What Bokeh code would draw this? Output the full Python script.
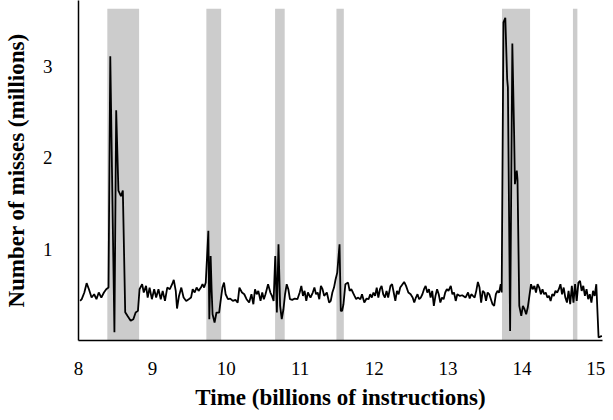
from bokeh.plotting import figure
from bokeh.models import Range1d, FixedTicker
from bokeh.embed import file_html
from bokeh.resources import INLINE

# Time (billions of instructions)
time_b = [
    8.022, 8.044, 8.079, 8.110, 8.141, 8.177, 8.212, 8.243, 8.274, 8.309, 8.344, 8.375, 8.406,
    8.430, 8.486, 8.510, 8.540, 8.575, 8.600, 8.632,
    8.662, 8.706, 8.742, 8.773, 8.804, 8.826, 8.861, 8.883, 8.914, 8.936, 8.962, 8.993,
    9.024, 9.051, 9.082, 9.113, 9.139, 9.170, 9.201, 9.236, 9.267, 9.289, 9.316, 9.333,
    9.360, 9.391, 9.422, 9.457, 9.492, 9.523, 9.545, 9.572, 9.598, 9.625, 9.656, 9.678,
    9.700, 9.722,
    9.757, 9.770, 9.788, 9.801, 9.814, 9.841, 9.867, 9.903, 9.920, 9.947, 9.969, 9.991,
    10.022, 10.053, 10.088, 10.124, 10.154, 10.177, 10.212, 10.243, 10.274, 10.309, 10.340,
    10.366, 10.388, 10.411, 10.433, 10.463, 10.486, 10.508, 10.530, 10.565, 10.596, 10.618,
    10.640, 10.662, 10.684, 10.706, 10.728, 10.750, 10.773, 10.795, 10.817, 10.839, 10.861,
    10.892, 10.927, 10.962, 10.993, 11.015, 11.037, 11.059, 11.082, 11.104, 11.139, 11.170,
    11.192, 11.214, 11.236, 11.258, 11.280, 11.302, 11.324, 11.360, 11.391, 11.413, 11.435,
    11.457, 11.479, 11.501,
    11.532, 11.549, 11.567, 11.585, 11.611, 11.647, 11.669, 11.691, 11.713, 11.735, 11.757,
    11.779, 11.814, 11.836, 11.867, 11.898, 11.925, 11.947, 11.969, 11.991, 12.013, 12.035,
    12.057, 12.079, 12.101, 12.123, 12.146, 12.168, 12.190, 12.221, 12.243, 12.265, 12.287,
    12.309, 12.331, 12.353, 12.375, 12.406, 12.432, 12.463, 12.494, 12.521, 12.543, 12.565,
    12.587, 12.609, 12.631, 12.653, 12.675, 12.697, 12.719, 12.742, 12.764, 12.786, 12.808,
    12.830, 12.852, 12.874, 12.896, 12.918, 12.940, 12.962, 12.984, 13.006, 13.037, 13.059,
    13.081, 13.104, 13.126, 13.161, 13.192, 13.236,
    13.271, 13.293, 13.315, 13.337, 13.360, 13.382, 13.404, 13.426, 13.448, 13.470, 13.492,
    13.514, 13.536, 13.558, 13.580, 13.602, 13.624, 13.647, 13.669, 13.691, 13.713, 13.726,
    13.750, 13.775, 13.800, 13.810, 13.840, 13.870, 13.894, 13.905, 13.930, 13.940,
    13.964, 13.991, 14.013, 14.035, 14.057, 14.079, 14.101, 14.123, 14.145, 14.168, 14.190,
    14.212, 14.234, 14.256, 14.278, 14.300, 14.322, 14.344, 14.366, 14.388, 14.410, 14.432,
    14.454, 14.477, 14.499, 14.521, 14.543, 14.565, 14.587, 14.609, 14.631, 14.653, 14.675,
    14.697, 14.719, 14.741, 14.764, 14.786, 14.808, 14.830, 14.852, 14.874, 14.896, 14.918,
    14.940, 14.962, 14.984, 15.006, 15.037, 15.081,
]

# Number of misses (millions)
misses_m = [
    0.433, 0.452, 0.525, 0.627, 0.561, 0.470, 0.506, 0.452, 0.525, 0.470, 0.525, 0.561, 0.579,
    3.110, 0.090, 2.520, 1.640, 1.580, 1.640, 0.310,
    0.270, 0.215, 0.233, 0.306, 0.324, 0.561, 0.616, 0.525, 0.598, 0.470, 0.579, 0.452,
    0.561, 0.470, 0.561, 0.452, 0.543, 0.433, 0.579, 0.561, 0.616, 0.663, 0.543, 0.350,
    0.488, 0.579, 0.470, 0.433, 0.452, 0.470, 0.561, 0.525, 0.579, 0.543, 0.579, 0.616,
    0.579, 0.634,
    1.200, 0.233, 0.925, 0.561, 0.288, 0.197, 0.306, 0.306, 0.415, 0.579, 0.634, 0.506,
    0.452, 0.459, 0.433, 0.444, 0.415, 0.579, 0.525, 0.506, 0.452, 0.415, 0.506,
    0.397, 0.561, 0.506, 0.543, 0.433, 0.525, 0.452, 0.506, 0.616, 0.525, 0.488,
    0.433, 0.925, 0.306, 1.053, 0.379, 0.233, 0.342, 0.506, 0.616, 0.561, 0.452,
    0.444, 0.459, 0.452, 0.525, 0.598, 0.488, 0.543, 0.433, 0.525, 0.470, 0.525,
    0.579, 0.506, 0.525, 0.452, 0.598, 0.561, 0.488, 0.525, 0.415, 0.433, 0.525,
    0.579, 0.670, 0.743,
    1.053, 0.324, 0.324, 0.397, 0.616, 0.634, 0.543, 0.561, 0.525, 0.488, 0.452,
    0.470, 0.452, 0.506, 0.415, 0.459, 0.452, 0.506, 0.470, 0.525, 0.488, 0.579,
    0.470, 0.561, 0.598, 0.506, 0.470, 0.543, 0.470, 0.598, 0.616, 0.525, 0.433,
    0.543, 0.506, 0.579, 0.605, 0.641, 0.598, 0.525, 0.506, 0.470, 0.415, 0.470,
    0.506, 0.452, 0.470, 0.506, 0.561, 0.598, 0.525, 0.561, 0.470, 0.543, 0.379,
    0.488, 0.561, 0.506, 0.415, 0.470, 0.452, 0.525, 0.561, 0.543, 0.598, 0.506,
    0.525, 0.433, 0.506, 0.488, 0.495, 0.470,
    0.525, 0.459, 0.506, 0.488, 0.470, 0.543, 0.641, 0.579, 0.415, 0.543, 0.525,
    0.433, 0.525, 0.506, 0.452, 0.397, 0.379, 0.506, 0.543, 0.525, 0.616, 0.525,
    3.480, 3.530, 2.860, 2.770, 0.105, 3.250, 2.270, 1.710, 1.860, 1.760,
    0.379, 0.270, 0.379, 0.342, 0.288, 0.361, 0.488, 0.616, 0.561, 0.598, 0.525,
    0.616, 0.579, 0.506, 0.561, 0.506, 0.525, 0.470, 0.488, 0.433, 0.506, 0.488,
    0.543, 0.525, 0.561, 0.616, 0.506, 0.579, 0.470, 0.415, 0.543, 0.397, 0.598,
    0.415, 0.616, 0.433, 0.634, 0.652, 0.543, 0.598, 0.488, 0.561, 0.452, 0.506,
    0.415, 0.543, 0.488, 0.616, 0.033, 0.051,
]

# Shaded phases (start, end in billions of instructions)
band_start = [8.39, 9.73, 10.66, 11.49, 13.73, 14.69]
band_end = [8.82, 9.93, 10.79, 11.59, 14.11, 14.75]
band_top = 3.63

x_ticks = [8, 9, 10, 11, 12, 13, 14, 15]
y_ticks = [1, 2, 3]

FONT = "Liberation Serif"

p = figure(width=605, height=412, output_backend="svg", toolbar_location=None,
           x_range=Range1d(8, 15.09), y_range=Range1d(0, 3.72),
           min_border_left=67, min_border_right=3, min_border_top=0, min_border_bottom=72)
p.outline_line_color = None
p.grid.grid_line_color = None
p.background_fill_color = "white"

p.quad(left=band_start, right=band_end, bottom=[0] * len(band_start), top=[band_top] * len(band_start),
       fill_color="#cccccc", line_color=None)
p.line(time_b, misses_m, line_color="black", line_width=1.8)

for ax in (p.xaxis[0], p.yaxis[0]):
    ax.axis_line_color = "black"
    ax.axis_line_width = 1.5
    ax.major_tick_line_color = None
    ax.minor_tick_line_color = None
    ax.major_label_text_font = FONT
    ax.major_label_text_font_size = "19px"
    ax.major_label_text_color = "black"
    ax.axis_label_text_font = FONT
    ax.axis_label_text_font_size = "23px"
    ax.axis_label_text_font_style = "bold"
    ax.axis_label_text_color = "black"

p.xaxis.ticker = FixedTicker(ticks=x_ticks)
p.yaxis.ticker = FixedTicker(ticks=y_ticks)
p.xaxis.axis_label = "Time (billions of instructions)"
p.yaxis.axis_label = "Number of misses (millions)"
p.xaxis.major_label_standoff = 15
p.xaxis.axis_label_standoff = 7
p.yaxis.major_label_standoff = 20
p.yaxis.axis_label_standoff = 11

open("out.html", "w").write(file_html(p, INLINE))
